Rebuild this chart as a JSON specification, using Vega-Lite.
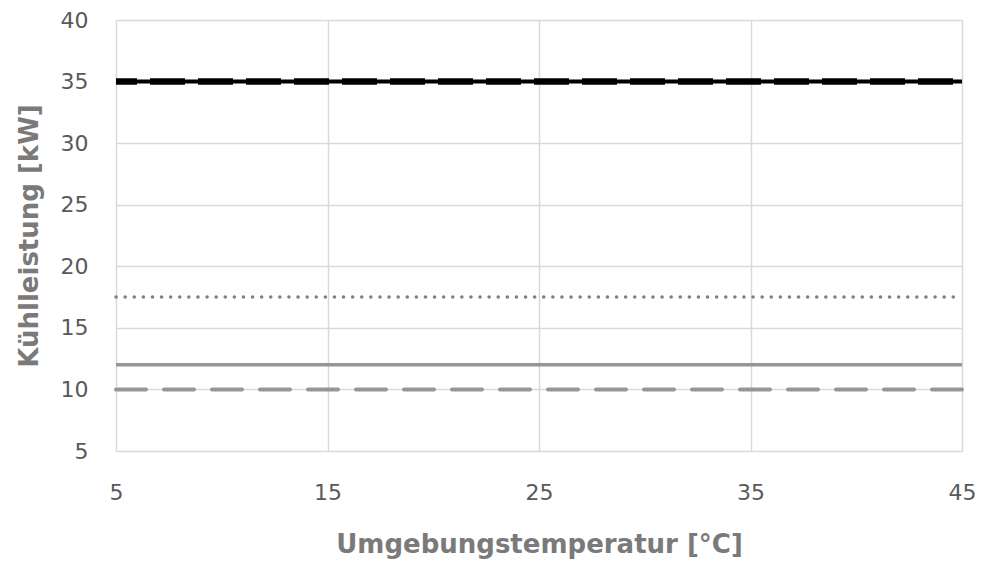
{
  "$schema": "https://vega.github.io/schema/vega-lite/v6.json",
  "width": 846,
  "height": 431,
  "autosize": {"type": "none"},
  "padding": {"left": 116, "top": 20, "right": 34, "bottom": 111},
  "background": "white",
  "config": {
    "view": {"stroke": null},
    "font": "DejaVu Sans",
    "axis": {
      "labelFont": "DejaVu Sans",
      "labelFontSize": 22,
      "labelColor": "#595959",
      "labelFlush": false,
      "titleFont": "DejaVu Sans",
      "titleFontSize": 26,
      "titleFontWeight": "bold",
      "titleColor": "#7a7a7a",
      "gridColor": "#d9d9d9",
      "gridWidth": 1.5,
      "domain": false,
      "ticks": false
    }
  },
  "data": {
    "values": [
      {"series": "S1", "x": 5, "y": 35},
      {"series": "S1", "x": 45, "y": 35},
      {"series": "S2", "x": 5, "y": 35},
      {"series": "S2", "x": 45, "y": 35},
      {"series": "S3", "x": 5, "y": 17.5},
      {"series": "S3", "x": 45, "y": 17.5},
      {"series": "S4", "x": 5, "y": 12},
      {"series": "S4", "x": 45, "y": 12},
      {"series": "S5", "x": 5, "y": 10},
      {"series": "S5", "x": 45, "y": 10}
    ]
  },
  "encoding": {
    "x": {
      "field": "x", "type": "quantitative",
      "scale": {"domain": [5, 45], "nice": false, "zero": false},
      "axis": {"values": [5, 15, 25, 35, 45], "title": "Umgebungstemperatur [°C]", "labelPadding": 31, "titlePadding": 28}
    },
    "y": {
      "field": "y", "type": "quantitative",
      "scale": {"domain": [5, 40], "nice": false, "zero": false},
      "axis": {"values": [5, 10, 15, 20, 25, 30, 35, 40], "title": "Kühlleistung [kW]", "labelPadding": 28, "titlePadding": 18}
    }
  },
  "layer": [
    {
      "transform": [{"filter": "datum.series == 'S1'"}],
      "mark": {"type": "line", "strokeCap": "butt", "color": "#000000", "strokeWidth": 4}
    },
    {
      "transform": [{"filter": "datum.series == 'S2'"}],
      "mark": {"type": "line", "strokeCap": "butt", "color": "#000000", "strokeWidth": 6.5, "strokeDash": [35, 13], "strokeDashOffset": 14}
    },
    {
      "transform": [{"filter": "datum.series == 'S3'"}],
      "mark": {"type": "line", "strokeCap": "round", "color": "#808080", "strokeWidth": 3.5, "strokeDash": [0.1, 9]}
    },
    {
      "transform": [{"filter": "datum.series == 'S4'"}],
      "mark": {"type": "line", "strokeCap": "butt", "color": "#969696", "strokeWidth": 3.5}
    },
    {
      "transform": [{"filter": "datum.series == 'S5'"}],
      "mark": {"type": "line", "strokeCap": "round", "color": "#969696", "strokeWidth": 4, "strokeDash": [30, 18]}
    }
  ]
}
